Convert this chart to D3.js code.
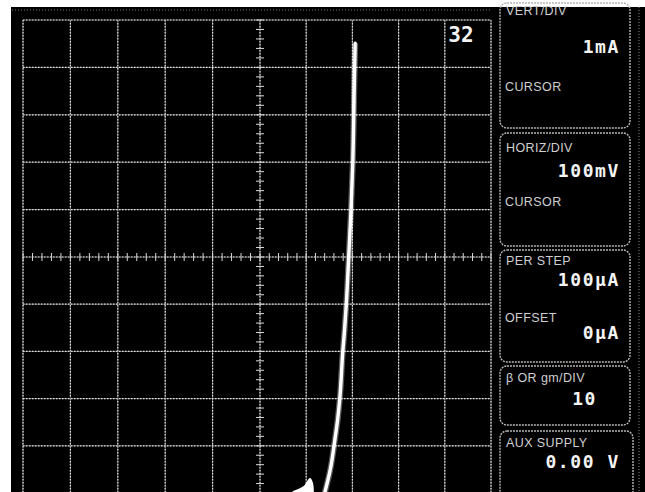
<!DOCTYPE html>
<html><head><meta charset="utf-8">
<script src="https://cdn.jsdelivr.net/npm/d3@7"></script>
<style>html,body{margin:0;padding:0;background:#fff;overflow:hidden}svg{display:block}</style>
</head><body>
<svg id="c" width="645" height="492"></svg>
<script>
// ---- data (volts on X, milliamps on Y) ----
const gridVolts = [0, 0.1, 0.2, 0.3, 0.4, 0.5, 0.6, 0.7, 0.8, 0.9, 1.0];
const gridMilliamps = [0, 1, 2, 3, 4, 5, 6, 7, 8, 9, 10];
const traceVolts = [0.640, 0.652, 0.662, 0.668, 0.673, 0.679, 0.683, 0.687, 0.692, 0.697, 0.701, 0.704, 0.706];
const traceMilliamps = [0.0, 0.49, 1.12, 1.55, 2.03, 2.97, 3.45, 4.03, 5.0, 5.99, 7.05, 8.6, 9.51];
const glowVolts = [0.571, 0.587, 0.597, 0.604, 0.608, 0.613, 0.615];
const glowMilliamps = [0.02, 0.085, 0.15, 0.25, 0.30, 0.21, 0.02];
const stepCount = ["32"];
const panelTitles = ["VERT/DIV", "HORIZ/DIV", "PER STEP", "\u03B2 OR gm/DIV", "AUX SUPPLY"];
const panelValues = ["1mA", "100mV", "100\u03BCA", "10", "0.00 V"];
const panelSubTitles = ["CURSOR", "CURSOR", "OFFSET", "", ""];
const panelSubValues = ["", "", "0\u03BCA", "", ""];

const svg = d3.select("#c");
const x = d3.scaleLinear().domain([0, 0.5, 1]).range([23, 260, 491]);
const y = d3.scaleLinear().domain([0, 5, 10]).range([493, 257, 20]);

// screen background
svg.append("rect").attr("x", 11).attr("y", 7).attr("width", 634).attr("height", 485).attr("fill", "#000");
svg.append("line").attr("x1", 12).attr("x2", 492).attr("y1", 10).attr("y2", 10)
  .attr("stroke", "#777").attr("stroke-dasharray", "1,2");

// graticule
const g = svg.append("g");
function gridLine(sel, x1, y1, x2, y2) {
  sel.append("line").attr("x1", x1).attr("y1", y1).attr("x2", x2).attr("y2", y2)
    .attr("stroke", "#666").attr("stroke-width", 1);
  sel.append("line").attr("x1", x1).attr("y1", y1).attr("x2", x2).attr("y2", y2)
    .attr("stroke", "#e0e0e0").attr("stroke-width", 1.2).attr("stroke-dasharray", "1.5,1.5");
}
gridVolts.forEach(v => gridLine(g, x(v), y(10), x(v), y(0)));
gridMilliamps.forEach(m => gridLine(g, x(0), y(m), x(1), y(m)));

// minor ticks on the centre lines
const minorV = d3.range(0, 1.0001, 0.02);
const minorM = d3.range(0, 10.0001, 0.2);
g.selectAll(".mx").data(minorV).join("line")
  .attr("x1", d => x(d)).attr("x2", d => x(d))
  .attr("y1", y(5) - 4).attr("y2", y(5) + 4)
  .attr("stroke", "#d8d8d8").attr("stroke-width", 1);
g.selectAll(".my").data(minorM).join("line")
  .attr("y1", d => y(d)).attr("y2", d => y(d))
  .attr("x1", x(0.5) - 4).attr("x2", x(0.5) + 4)
  .attr("stroke", "#d8d8d8").attr("stroke-width", 1);

// trace
const pts = traceVolts.map((v, i) => [v, traceMilliamps[i]]);
const line = d3.line().x(d => x(d[0])).y(d => y(d[1])).curve(d3.curveMonotoneY);
const ptsTopDown = pts.slice().reverse();
svg.append("path").attr("d", line(ptsTopDown)).attr("fill", "none")
  .attr("stroke", "#fff").attr("stroke-opacity", 0.35).attr("stroke-width", 6);
svg.append("path").attr("d", line(ptsTopDown)).attr("fill", "none")
  .attr("stroke", "#fff").attr("stroke-width", 3.4).attr("stroke-linecap", "round");
const gpts = glowVolts.map((v, i) => [v, glowMilliamps[i]]);
svg.append("path").attr("d", d3.line().x(d => x(d[0])).y(d => y(d[1])).curve(d3.curveCatmullRom)(gpts) + "Z")
  .attr("fill", "#fff").attr("stroke", "#fff").attr("stroke-width", 1.5);

// step count
svg.append("text").attr("x", 461).attr("y", 42).attr("text-anchor", "middle")
  .attr("font-family", "DejaVu Sans Mono").attr("font-weight", "bold").attr("font-size", 21)
  .attr("fill", "#f2f2f2").text(stepCount[0]);

// right-hand readout panels
const boxes = [[3, 128], [133, 246], [250, 362], [366, 425], [431, 500]];
const titleY = [15, 152, 265, 382, 447];
const valueY = [53, 177, 286, 405, 468];
const subY = [91, 206, 322, 0, 0];
const subValY = [0, 0, 339, 0, 0];
const valueEnd = [620, 620, 620, 597, 620];
const pg = svg.append("g");
boxes.forEach((b, i) => {
  pg.append("rect").attr("x", 500).attr("y", b[0]).attr("width", 130 + (i === 4 ? 3 : 0)).attr("height", b[1] - b[0])
    .attr("rx", 7).attr("fill", "none").attr("stroke", "#b5b5b5").attr("stroke-width", 1.4)
    .attr("stroke-dasharray", "2,1");
  pg.append("text").attr("x", 506).attr("y", titleY[i]).text(panelTitles[i])
    .attr("font-family", "Liberation Sans, Arial, sans-serif").attr("font-size", 12.5)
    .attr("letter-spacing", 0.4).attr("fill", "#cfcfcf");
  pg.append("text").attr("x", valueEnd[i]).attr("y", valueY[i]).attr("text-anchor", "end").text(panelValues[i])
    .attr("font-family", "DejaVu Sans Mono").attr("font-weight", "bold").attr("font-size", 18)
    .attr("letter-spacing", 1.6).attr("fill", "#f4f4f4");
  if (panelSubTitles[i]) pg.append("text").attr("x", 505).attr("y", subY[i]).text(panelSubTitles[i])
    .attr("font-family", "Liberation Sans, Arial, sans-serif").attr("font-size", 12.5)
    .attr("letter-spacing", 0.4).attr("fill", "#cfcfcf");
  if (panelSubValues[i]) pg.append("text").attr("x", 620).attr("y", subValY[i]).attr("text-anchor", "end").text(panelSubValues[i])
    .attr("font-family", "DejaVu Sans Mono").attr("font-weight", "bold").attr("font-size", 18)
    .attr("letter-spacing", 1.6).attr("fill", "#f4f4f4");
});
svg.append("line").attr("x1", 639).attr("x2", 639).attr("y1", 7).attr("y2", 492)
  .attr("stroke", "#888").attr("stroke-dasharray", "1,2");
</script>
</body></html>
